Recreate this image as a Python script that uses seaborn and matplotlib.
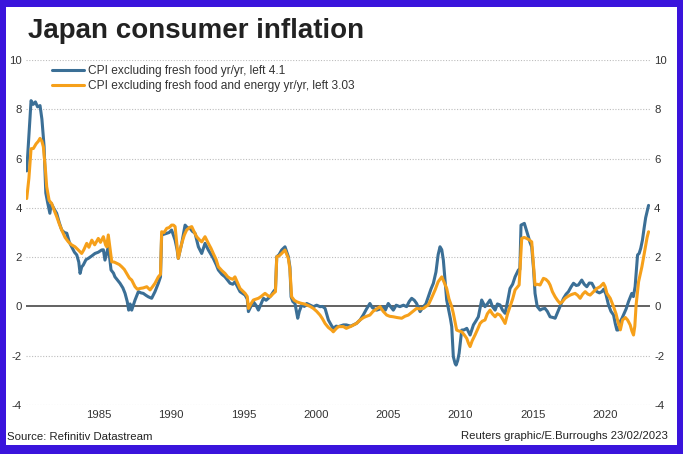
import numpy as np
import pandas as pd
import seaborn as sns
import matplotlib.pyplot as plt
from matplotlib.patches import Rectangle

# CPI excluding fresh food, yr/yr % (decimal years)
core_years = [1980.00, 1980.30, 1980.45, 1980.60, 1980.75, 1980.92, 1981.05, 1981.20, 1981.32, 1981.45,
              1981.60, 1981.70, 1981.85, 1982.07, 1982.25, 1982.42, 1982.60, 1982.77, 1982.95, 1983.11,
              1983.30, 1983.46, 1983.60, 1983.69, 1983.80, 1983.91, 1984.10, 1984.26, 1984.50, 1984.72,
              1984.95, 1985.18, 1985.30, 1985.41, 1985.55, 1985.64, 1985.75, 1985.83, 1986.00, 1986.10,
              1986.30, 1986.45, 1986.65, 1986.80, 1986.95, 1987.05, 1987.15, 1987.26, 1987.49, 1987.72,
              1987.90, 1988.06, 1988.25, 1988.41, 1988.64, 1988.87, 1989.10, 1989.25, 1989.33, 1989.68,
              1989.85, 1990.02, 1990.26, 1990.40, 1990.48, 1990.72, 1990.95, 1991.10, 1991.29, 1991.45,
              1991.64, 1991.87, 1992.10, 1992.33, 1992.56, 1992.75, 1992.90, 1993.10, 1993.25, 1993.50,
              1993.71, 1994.06, 1994.25, 1994.40, 1994.75, 1995.10, 1995.25, 1995.33, 1995.50, 1995.67,
              1995.85, 1996.02, 1996.20, 1996.37, 1996.55, 1996.71, 1996.90, 1997.06, 1997.20, 1997.29,
              1997.45, 1997.63, 1997.86, 1998.09, 1998.20, 1998.28, 1998.40, 1998.55, 1998.74, 1998.85,
              1999.02, 1999.20, 1999.36, 1999.60, 1999.82, 2000.05, 2000.28, 2000.45, 2000.63, 2000.86,
              2001.05, 2001.20, 2001.40, 2001.55, 2001.90, 2002.10, 2002.40, 2002.80, 2003.05, 2003.27,
              2003.50, 2003.73, 2003.90, 2004.20, 2004.45, 2004.66, 2004.80, 2005.00, 2005.15, 2005.35,
              2005.55, 2005.80, 2006.05, 2006.27, 2006.45, 2006.62, 2006.80, 2006.96, 2007.20, 2007.43,
              2007.60, 2007.77, 2007.95, 2008.12, 2008.30, 2008.45, 2008.58, 2008.70, 2008.81, 2008.95,
              2009.04, 2009.20, 2009.30, 2009.39, 2009.50, 2009.62, 2009.69, 2009.80, 2009.90, 2010.08,
              2010.25, 2010.43, 2010.66, 2010.89, 2011.05, 2011.23, 2011.46, 2011.69, 2011.85, 2012.04,
              2012.20, 2012.39, 2012.55, 2012.73, 2012.90, 2013.08, 2013.25, 2013.42, 2013.60, 2013.77,
              2014.00, 2014.10, 2014.18, 2014.41, 2014.55, 2014.69, 2014.80, 2014.92, 2015.05, 2015.15,
              2015.30, 2015.50, 2015.65, 2015.84, 2016.00, 2016.19, 2016.40, 2016.54, 2016.77, 2016.95,
              2017.12, 2017.30, 2017.46, 2017.65, 2017.81, 2018.00, 2018.15, 2018.38, 2018.55, 2018.73,
              2018.90, 2019.08, 2019.25, 2019.42, 2019.60, 2019.77, 2019.90, 2020.05, 2020.23, 2020.40,
              2020.58, 2020.70, 2020.81, 2020.92, 2021.03, 2021.15, 2021.26, 2021.45, 2021.61, 2021.75,
              2021.84, 2021.95, 2022.07, 2022.24, 2022.35, 2022.46, 2022.58, 2022.69, 2022.80, 2023.00]
core_vals = [5.5, 8.35, 8.2, 8.3, 8.1, 8.15, 7.6, 6.5, 4.6, 4.2,
             3.78, 4.18, 4.0, 3.78, 3.4, 3.1, 3.0, 2.97, 2.6, 2.42,
             2.2, 2.09, 1.8, 1.34, 1.6, 1.68, 1.9, 1.95, 2.05, 2.15,
             2.2, 2.29, 2.3, 1.88, 2.2, 2.42, 1.9, 1.48, 1.35, 1.2,
             1.05, 0.94, 0.75, 0.53, 0.2, -0.15, 0.1, -0.15, 0.26, 0.6,
             0.55, 0.53, 0.45, 0.39, 0.33, 0.6, 0.94, 1.2, 2.9, 2.97,
             3.0, 3.1, 2.69, 2.3, 1.95, 2.56, 3.3, 3.2, 3.17, 3.05,
             2.97, 2.42, 2.15, 2.56, 2.29, 2.1, 1.95, 1.7, 1.48, 1.3,
             1.2, 0.94, 0.9, 1.0, 0.6, 0.46, 0.3, -0.21, 0.0, 0.19,
             0.05, -0.15, 0.1, 0.33, 0.25, 0.33, 0.45, 0.6, 0.7, 2.02,
             2.1, 2.29, 2.42, 2.02, 1.6, 0.39, 0.2, 0.12, -0.48, -0.2,
             0.06, 0.0, 0.12, 0.05, -0.01, 0.05, -0.01, 0.0, -0.08, -0.55,
             -0.75, -0.89, -0.8, -0.82, -0.75, -0.75, -0.8, -0.69, -0.55, -0.35,
             -0.1, 0.12, -0.05, -0.15, -0.1, -0.01, -0.15, 0.12, 0.0, -0.15,
             0.05, -0.01, 0.05, -0.01, 0.2, 0.33, 0.25, 0.12, -0.21, -0.01,
             0.1, 0.39, 0.7, 0.94, 1.4, 2.1, 2.42, 2.3, 1.88, 0.9,
             0.26, -0.2, -0.5, -0.82, -2.04, -2.31, -2.38, -2.2, -1.9, -0.96,
             -0.95, -0.89, -1.16, -0.75, -0.6, -0.42, 0.26, -0.01, 0.1, 0.26,
             0.0, -0.15, 0.1, 0.06, -0.15, -0.28, 0.2, 0.73, 0.9, 1.2,
             1.48, 1.5, 3.3, 3.37, 3.1, 2.83, 2.6, 2.42, 1.5, 0.53,
             0.0, -0.15, -0.1, -0.08, -0.2, -0.42, -0.45, -0.48, -0.15, 0.1,
             0.33, 0.5, 0.6, 0.8, 0.94, 0.85, 0.87, 1.07, 0.9, 0.8,
             0.95, 0.94, 0.75, 0.6, 0.55, 0.6, 0.7, 0.5, 0.06, -0.2,
             -0.35, -0.7, -0.96, -0.95, -0.62, -0.5, -0.35, -0.1, 0.19, 0.4,
             0.53, 0.4, 0.8, 2.09, 2.15, 2.36, 2.7, 3.17, 3.6, 4.1]

# CPI excluding fresh food and energy, yr/yr %
cc_years = [1980.00, 1980.15, 1980.30, 1980.46, 1980.65, 1980.80, 1980.92, 1981.05, 1981.15, 1981.30,
            1981.38, 1981.55, 1981.72, 1981.90, 1982.07, 1982.25, 1982.42, 1982.65, 1982.88, 1983.10,
            1983.34, 1983.55, 1983.80, 1983.95, 1984.15, 1984.30, 1984.50, 1984.70, 1984.95, 1985.10,
            1985.30, 1985.45, 1985.53, 1985.64, 1985.75, 1985.88, 1986.05, 1986.22, 1986.40, 1986.57,
            1986.75, 1986.91, 1987.10, 1987.26, 1987.49, 1987.65, 1987.84, 1988.05, 1988.30, 1988.53,
            1988.70, 1988.87, 1989.10, 1989.25, 1989.33, 1989.50, 1989.68, 1989.85, 1990.02, 1990.15,
            1990.26, 1990.40, 1990.48, 1990.72, 1990.90, 1991.06, 1991.25, 1991.41, 1991.60, 1991.75,
            1991.95, 1992.10, 1992.33, 1992.56, 1992.75, 1992.90, 1993.10, 1993.25, 1993.50, 1993.71,
            1993.90, 1994.06, 1994.25, 1994.40, 1994.55, 1994.75, 1995.10, 1995.25, 1995.33, 1995.50,
            1995.67, 1996.02, 1996.20, 1996.48, 1996.65, 1996.83, 1997.06, 1997.20, 1997.29, 1997.45,
            1997.63, 1997.86, 1998.09, 1998.20, 1998.32, 1998.50, 1998.67, 1998.85, 1999.02, 1999.20,
            1999.36, 1999.60, 1999.82, 2000.05, 2000.28, 2000.45, 2000.63, 2000.85, 2001.09, 2001.20,
            2001.40, 2001.55, 2001.90, 2002.10, 2002.45, 2002.80, 2003.05, 2003.30, 2003.50, 2003.73,
            2003.95, 2004.20, 2004.43, 2004.65, 2004.89, 2005.10, 2005.35, 2005.60, 2005.93, 2006.15,
            2006.39, 2006.70, 2006.96, 2007.20, 2007.43, 2007.60, 2007.77, 2008.00, 2008.24, 2008.45,
            2008.70, 2008.85, 2009.04, 2009.20, 2009.39, 2009.50, 2009.73, 2009.90, 2010.08, 2010.25,
            2010.43, 2010.55, 2010.66, 2010.80, 2011.00, 2011.20, 2011.35, 2011.50, 2011.69, 2011.85,
            2012.04, 2012.20, 2012.39, 2012.55, 2012.73, 2012.90, 2013.08, 2013.25, 2013.42, 2013.60,
            2013.77, 2013.95, 2014.05, 2014.23, 2014.40, 2014.57, 2014.75, 2014.92, 2015.05, 2015.15,
            2015.30, 2015.50, 2015.73, 2015.90, 2016.07, 2016.19, 2016.35, 2016.54, 2016.70, 2016.88,
            2017.05, 2017.23, 2017.40, 2017.58, 2017.75, 2017.92, 2018.10, 2018.27, 2018.45, 2018.62,
            2018.80, 2018.96, 2019.20, 2019.42, 2019.65, 2019.88, 2020.00, 2020.12, 2020.35, 2020.58,
            2020.75, 2020.92, 2021.05, 2021.20, 2021.40, 2021.55, 2021.73, 2021.85, 2021.96, 2022.05,
            2022.14, 2022.31, 2022.54, 2022.77, 2022.90, 2023.00]
cc_vals = [4.38, 5.2, 6.4, 6.41, 6.6, 6.7, 6.82, 6.7, 6.48, 5.5,
           4.86, 4.3, 4.18, 3.9, 3.65, 3.35, 3.1, 2.8, 2.62, 2.5,
           2.42, 2.3, 2.15, 2.3, 2.56, 2.4, 2.69, 2.5, 2.76, 2.6,
           2.83, 2.5, 2.42, 2.9, 2.4, 1.81, 1.8, 1.75, 1.7, 1.61,
           1.5, 1.34, 1.15, 1.07, 0.8, 0.7, 0.73, 0.75, 0.8, 0.67,
           0.8, 0.94, 1.2, 1.3, 3.03, 3.0, 3.17, 3.2, 3.3, 3.3,
           3.24, 2.4, 1.95, 2.56, 2.9, 3.1, 3.2, 3.24, 3.0, 2.83,
           2.7, 2.62, 2.83, 2.56, 2.35, 2.15, 1.9, 1.61, 1.45, 1.34,
           1.2, 1.14, 1.1, 1.2, 1.0, 0.73, 0.53, 0.4, -0.08, 0.1,
           0.26, 0.33, 0.4, 0.53, 0.45, 0.39, 0.53, 0.6, 2.02, 2.05,
           2.15, 2.29, 1.95, 1.5, 0.39, 0.25, 0.19, 0.15, 0.12, 0.1,
           0.06, 0.0, -0.08, -0.2, -0.35, -0.5, -0.69, -0.85, -0.96, -1.03,
           -0.9, -0.82, -0.82, -0.89, -0.8, -0.69, -0.55, -0.45, -0.4, -0.35,
           -0.2, -0.1, -0.01, -0.2, -0.35, -0.4, -0.42, -0.45, -0.48, -0.4,
           -0.35, -0.2, -0.08, -0.1, -0.08, 0.0, 0.06, 0.35, 0.67, 1.0,
           1.2, 1.0, 0.73, 0.3, -0.01, -0.28, -0.96, -1.0, -1.03, -1.15,
           -1.3, -1.5, -1.63, -1.4, -1.16, -0.9, -0.69, -0.6, -0.55, -0.3,
           -0.15, -0.3, -0.42, -0.3, -0.35, -0.5, -0.69, -0.3, -0.01, 0.3,
           0.67, 0.8, 0.87, 2.76, 2.8, 2.76, 2.7, 2.62, 1.6, 0.87,
           0.9, 0.87, 1.14, 1.1, 1.0, 0.87, 0.6, 0.39, 0.25, 0.12,
           0.2, 0.33, 0.4, 0.46, 0.5, 0.53, 0.45, 0.33, 0.5, 0.6,
           0.5, 0.46, 0.6, 0.73, 0.8, 0.94, 0.8, 0.53, 0.33, -0.01,
           -0.3, -0.7, -0.95, -0.55, -0.45, -0.55, -0.75, -1.0, -1.16, -0.8,
           0.06, 1.0, 1.61, 2.36, 2.8, 3.03]

core_label = "CPI excluding fresh food yr/yr, left 4.1"
cc_label = "CPI excluding fresh food and energy yr/yr, left 3.03"
year_ticks = [1985, 1990, 1995, 2000, 2005, 2010, 2015, 2020]
y_ticks = [-4, -2, 0, 2, 4, 6, 8, 10]

blue = "#3b6f96"
orange = "#f6a01a"
border = "#3a14dc"

sns.set_theme(style="white")
plt.rcParams['font.family'] = ['Liberation Sans', 'DejaVu Sans']
plt.rcParams['axes.unicode_minus'] = False

W, H = 683, 454
fig = plt.figure(figsize=(W / 100, H / 100), dpi=100, facecolor=border)
fig.add_artist(Rectangle((6 / W, 9 / H), (W - 12) / W, (H - 16) / H, transform=fig.transFigure,
                         facecolor="white", edgecolor="none", zorder=-5))
ax = fig.add_axes([26 / W, 1 - 405 / H, 624 / W, 345 / H])
ax.set_facecolor("white")

core = pd.DataFrame({"year": core_years, "value": core_vals})
cc = pd.DataFrame({"year": cc_years, "value": cc_vals})
sns.lineplot(data=core, x="year", y="value", color=blue, lw=2.2, label=core_label, ax=ax)
sns.lineplot(data=cc, x="year", y="value", color=orange, lw=2.2, label=cc_label, ax=ax)

ax.set_xlim(1979.95, 2023.1)
ax.set_ylim(-4, 10)
ax.set_xticks(year_ticks)
ax.set_yticks(y_ticks)
ax.set_xlabel("")
ax.set_ylabel("")
for s in ax.spines.values():
    s.set_visible(False)

# dotted grid, solid zero line
for y in y_ticks:
    if y == 0:
        ax.axhline(0, color="#555555", lw=1.3, zorder=1)
    else:
        ax.axhline(y, color="#bdbdbd", lw=0.8, ls=(0, (1, 1.5)), zorder=0)

ax.tick_params(axis="y", length=0, pad=3, labelsize=8.2, labelcolor="#333333",
               labelleft=True, labelright=True)
ax.tick_params(axis="x", length=0, pad=3.5, labelsize=8.2, labelcolor="#333333")

leg = ax.legend(loc="upper left", bbox_to_anchor=(0.0417, 0.985), frameon=False, fontsize=8.6,
                handlelength=2.7, handletextpad=0.3, labelspacing=0.25,
                borderpad=0, borderaxespad=0)
for t in leg.get_texts():
    t.set_color("#333333")

fig.text(28 / W, 1 - 38 / H, "Japan consumer inflation", fontsize=20, fontweight="bold",
         color="#222222", va="baseline", ha="left")
fig.text(7 / W, 1 - 437 / H, "Source: Refinitiv Datastream", fontsize=8.2,
         color="#222222", va="center", ha="left")
fig.text(668 / W, 1 - 436 / H, "Reuters graphic/E.Burroughs 23/02/2023", fontsize=8.2,
         color="#222222", va="center", ha="right")

fig.savefig("out.png", dpi=100, facecolor=border)
